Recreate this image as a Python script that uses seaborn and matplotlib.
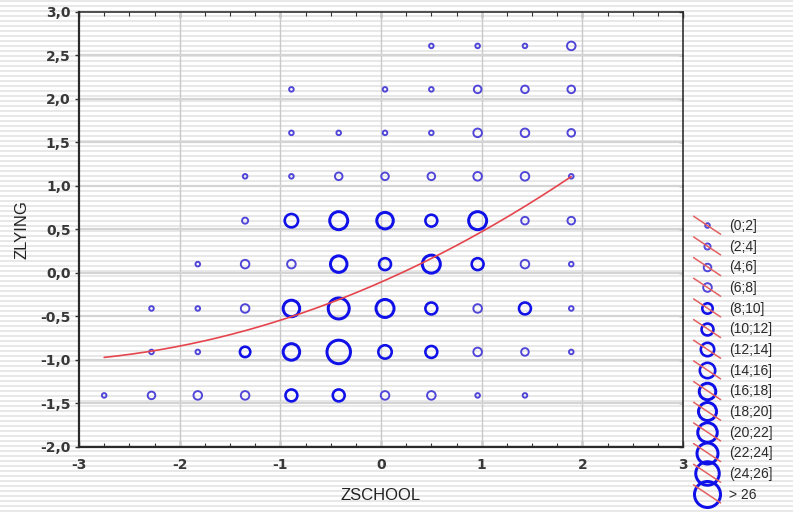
import numpy as np
import pandas as pd
import matplotlib
matplotlib.use("Agg")
import matplotlib.pyplot as plt
import seaborn as sns
from matplotlib.lines import Line2D
from matplotlib.legend_handler import HandlerBase
from matplotlib.ticker import MultipleLocator

# ---------------- data ----------------
zschool_levels = [-2.75, -2.28, -1.82, -1.35, -0.89, -0.42, 0.04, 0.50, 0.96, 1.43, 1.89]
zlying_levels = [2.61, 2.11, 1.61, 1.11, 0.60, 0.10, -0.41, -0.91, -1.41]
# count class per cell: 0 = empty, 1 = (0;2], 2 = (2;4], ... 14 = > 26
row_2_61 = [0, 0, 0, 0, 0, 0, 0, 1, 1, 1, 4]
row_2_11 = [0, 0, 0, 0, 1, 0, 1, 1, 3, 3, 3]
row_1_61 = [0, 0, 0, 0, 1, 1, 1, 1, 4, 4, 3]
row_1_11 = [0, 0, 0, 1, 1, 3, 3, 3, 4, 4, 1]
row_0_60 = [0, 0, 0, 2, 7, 10, 9, 6, 10, 3, 3]
row_0_10 = [0, 0, 1, 4, 4, 9, 6, 10, 6, 4, 1]
row_m0_41 = [0, 1, 1, 4, 9, 12, 10, 6, 4, 6, 1]
row_m0_91 = [0, 1, 1, 5, 9, 13, 7, 6, 4, 3, 1]
row_m1_41 = [1, 3, 4, 4, 6, 6, 4, 4, 1, 1, 0]
count_rows = [row_2_61, row_2_11, row_1_61, row_1_11, row_0_60,
              row_0_10, row_m0_41, row_m0_91, row_m1_41]

class_labels = ["(0;2]", "(2;4]", "(4;6]", "(6;8]", "(8;10]", "(10;12]", "(12;14]",
                "(14;16]", "(16;18]", "(18;20]", "(20;22]", "(22;24]", "(24;26]", "> 26"]

# quadratic fit line ZLYING = c2*x^2 + c1*x + c0, drawn over the data range
fit_coef = [0.0706, 0.509, -0.107]
fit_range = [-2.75, 1.89]

x_ticks = [-3, -2, -1, 0, 1, 2, 3]
x_tick_labels = ["-3", "-2", "-1", "0", "1", "2", "3"]
y_ticks = [-2.0, -1.5, -1.0, -0.5, 0.0, 0.5, 1.0, 1.5, 2.0, 2.5, 3.0]
y_tick_labels = ["-2,0", "-1,5", "-1,0", "-0,5", "0,0", "0,5", "1,0", "1,5",
                 "2,0", "2,5", "3,0"]

# ---------------- build table ----------------
recs = []
for yv, row in zip(zlying_levels, count_rows):
    for xv, c in zip(zschool_levels, row):
        if c > 0:
            recs.append({"ZSCHOOL": xv, "ZLYING": yv, "cls": c})
df = pd.DataFrame(recs)

# ---------------- styles ----------------
W, H, DPI = 793, 514, 100
px = 72.0 / DPI  # points per pixel
outer_d_px = [6.5, 8, 9.5, 10.5, 13, 14.5, 16, 18, 19.5, 21, 22.5, 24, 26.5, 29]
light_col = "#4f45d8"
dark_col = "#1010e8"

def cls_color(c):
    return light_col if c <= 4 else dark_col

def cls_lw_px(c):
    if c <= 4:
        return 1.9
    if c <= 8:
        return 2.6
    return 3.0

def cls_ms_pt(c):
    return (outer_d_px[c - 1] - cls_lw_px(c)) * px

sns.set_theme(style="white")
plt.rcParams["font.family"] = ["Liberation Sans", "DejaVu Sans"]

fig = plt.figure(figsize=(W / DPI, H / DPI), dpi=DPI)
fig.patch.set_facecolor("white")

# striped background (scan look)
bg = fig.add_axes([0, 0, 1, 1], zorder=0)
bg.axis("off")
stripe = np.array([0.91 if (i % 5) < 2 else 1.0 for i in range(H)])[:, None]
bg.imshow(stripe, aspect="auto", cmap="gray", vmin=0, vmax=1,
          interpolation="nearest", extent=(0, 1, 0, 1))

L, R, T, B = 79, 683, 12, 446.7
ax = fig.add_axes([L / W, 1 - B / H, (R - L) / W, (B - T) / H], zorder=1)
ax.patch.set_alpha(0)

# grid
for xv in x_ticks[1:-1]:
    ax.axvline(xv, color="#c9c9c9", lw=1.0, zorder=1)
for yv in y_ticks[1:-1]:
    ax.axhline(yv, color="#d4d4d4", lw=1.6, zorder=1)

# bubbles
palette = {c: cls_color(c) for c in sorted(df["cls"].unique())}
sizes = {c: cls_ms_pt(c) ** 2 for c in sorted(df["cls"].unique())}
sns.scatterplot(data=df, x="ZSCHOOL", y="ZLYING", hue="cls", size="cls",
                palette=palette, sizes=sizes, legend=False, ax=ax, zorder=3)
coll = ax.collections[-1]
ec = coll.get_facecolors()
coll.set_facecolors("none")
coll.set_edgecolors(ec)
coll.set_linewidths([cls_lw_px(c) * px for c in df["cls"]])

# fit curve
fx = np.linspace(fit_range[0], fit_range[1], 200)
fy = np.polyval(fit_coef, fx)
sns.lineplot(x=fx, y=fy, color="#e5464e", lw=1.2, ax=ax, zorder=4)

ax.set_xlim(-3, 3)
ax.set_ylim(-2, 3)
ax.set_xticks(x_ticks, labels=x_tick_labels)
ax.set_yticks(y_ticks, labels=y_tick_labels)
ax.xaxis.set_minor_locator(MultipleLocator(0.25))

for lab in ax.get_xticklabels() + ax.get_yticklabels():
    lab.set_fontfamily("DejaVu Sans")
    lab.set_fontweight("bold")
    lab.set_fontsize(10)
    lab.set_color("#383838")

ax.tick_params(axis="x", which="major", direction="in", length=4, width=1,
               color="#333333", top=True, bottom=True, pad=8)
ax.tick_params(axis="x", which="minor", direction="in", length=3, width=0.8,
               color="#333333", top=True, bottom=True)
ax.tick_params(axis="y", which="major", direction="out", length=3, width=1,
               color="#333333", left=True, right=False, pad=3)
sec = ax.secondary_yaxis("right")
sec.set_yticks(y_ticks, labels=[""] * len(y_ticks))
sec.tick_params(direction="in", length=3, width=1, color="#333333")
sec.spines["right"].set_visible(False)

for side, lw in (("left", 2.2), ("bottom", 2.2), ("top", 1.6), ("right", 1.6)):
    ax.spines[side].set_visible(True)
    ax.spines[side].set_color("#2a2a2a")
    ax.spines[side].set_linewidth(lw * px)

ax.set_xlabel("ZSCHOOL", fontsize=12, color="#222222", labelpad=12)
ax.set_ylabel("ZLYING", fontsize=12, color="#222222", labelpad=8)


# legend: circle with red diagonal line
class CircleDiag(HandlerBase):
    def create_artists(self, legend, orig_handle, xdescent, ydescent, width,
                       height, fontsize, trans):
        cx = 0.5 * width - xdescent
        cy = 0.5 * height - ydescent
        hw, hh = 13.5 * px, 9.0 * px
        diag = Line2D([cx - hw, cx + hw], [cy + hh, cy - hh], color="#e36060",
                      lw=1.1, transform=trans)
        mk = Line2D([cx], [cy], marker="o", ls="none",
                    markersize=orig_handle.get_markersize(), mfc="none",
                    mec=orig_handle.get_markeredgecolor(),
                    mew=orig_handle.get_markeredgewidth(), transform=trans)
        return [mk, diag]


handles = []
for i in range(1, len(class_labels) + 1):
    handles.append(Line2D([], [], marker="o", ls="none", markersize=cls_ms_pt(i),
                          mfc="none", mec=cls_color(i), mew=cls_lw_px(i) * px))

leg = fig.legend(handles, class_labels, handler_map={Line2D: CircleDiag()},
                 loc="upper left", bbox_to_anchor=(692.5 / W, 1 - 219 / H),
                 bbox_transform=fig.transFigure, frameon=False, fontsize=10,
                 handlelength=2.1, handleheight=1.0, handletextpad=0.55,
                 labelspacing=0.48, borderpad=0, borderaxespad=0)
for t in leg.get_texts():
    t.set_color("#2a2a2a")

fig.savefig("out.png", dpi=DPI)
